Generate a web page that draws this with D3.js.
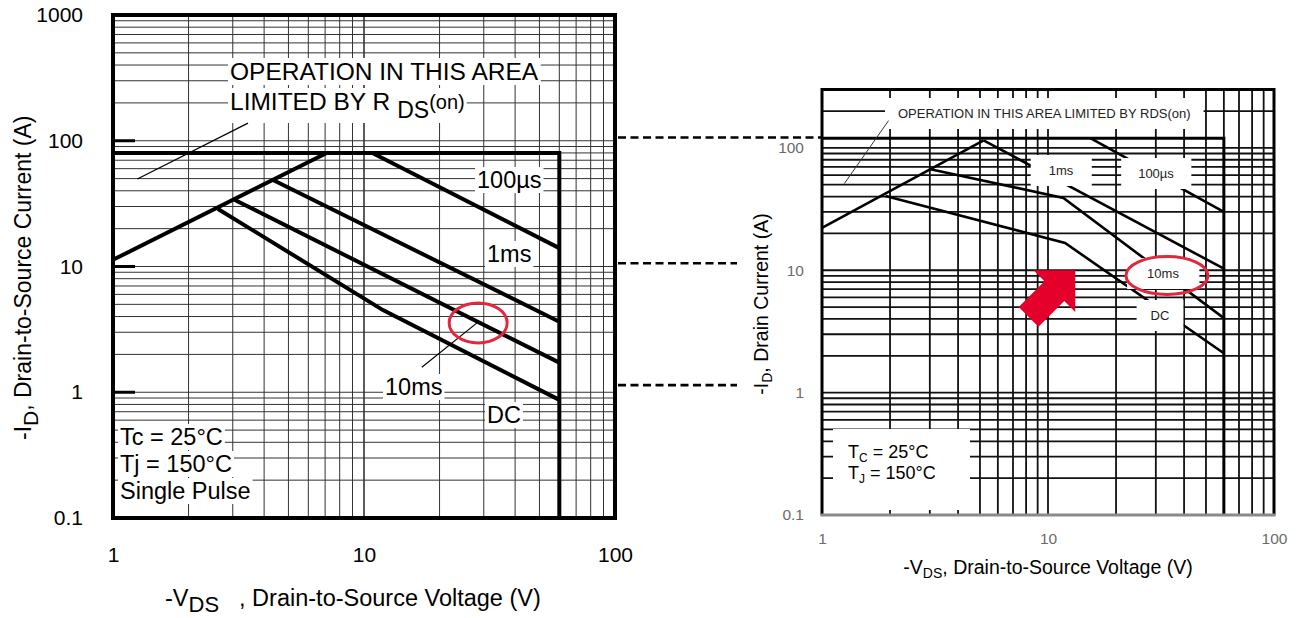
<!DOCTYPE html>
<html>
<head>
<meta charset="utf-8">
<script src="https://cdn.jsdelivr.net/npm/d3@7"></script>
<style>
  body { margin: 0; background: #fff; }
  svg { display: block; font-family: "Liberation Sans", Arial, Helvetica, sans-serif; }
</style>
</head>
<body>
<svg id="soa" width="1297" height="618"></svg>
<script>
// ---- left datasheet (SOA) ----
var leftTicksX = [1, 10, 100];
var leftTicksY = [0.1, 1, 10, 100, 1000];
var leftLimitI = 80, leftLimitV = 60;
var leftRdsV = [1, 7.1],        leftRdsI = [11.3, 80];
var left100usV = [10.8, 60],    left100usI = [80, 14];
var left1msV = [4.34, 60],      left1msI = [48.7, 3.64];
var left10msV = [3.06, 60],     left10msI = [33.8, 1.72];
var leftDcV = [2.62, 11.9, 60], leftDcI = [28.7, 4.5, 0.87];
var leftNoteV = [1.25, 3.45],   leftNoteI = [49.7, 138];   // leader to "OPERATION..."
var left10msLeadV = [17, 28.2], left10msLeadI = [1.58, 3.56];
var leftMark = [28.5, 3.56];    // red ellipse (V, A)

// ---- right datasheet (SOA) ----
var rightTicksX = [1, 10, 100];
var rightTicksY = [0.1, 1, 10, 100];
var rightLimitI = 120, rightLimitV = 60;
var rightRdsV = [1, 5.19],         rightRdsI = [22.2, 115];
var right100usV = [15.4, 60],      right100usI = [120, 30];
var right1msV = [5.19, 60],        right1msI = [115, 10.3];
var right10msV = [3.02, 11.7, 60], right10msI = [67, 39, 4.06];
var rightDcV = [1.91, 11.9, 60],   rightDcI = [40.5, 16.7, 2.1];
var rightNoteV = [1.97, 1.255],    rightNoteI = [167, 51];
var rightMark = [33.6, 9.06];
var rightArrowTip = [13.2, 10];

// levels of the dashed connectors (read on the left chart's scale)
var linkI = [106, 10.6, 1.14];

var RED = "#e2283c";
var svg = d3.select("#soa");
svg.append("rect").attr("width", 1297).attr("height", 618).attr("fill", "#fff");

// put a white box behind a text element
function box(g, t, px, py) {
  var b = t.node().getBBox();
  g.insert("rect", function() { return t.node(); })
    .attr("x", b.x - px).attr("y", b.y - py)
    .attr("width", b.width + 2 * px).attr("height", b.height + 2 * py)
    .attr("fill", "#fff");
}

// ================= LEFT =================
var L = {left: 113, right: 615, top: 15, bottom: 518};
var lx = d3.scaleLog().domain([1, 100]).range([L.left, L.right]);
var ly = d3.scaleLog().domain([0.1, 1000]).range([L.bottom, L.top]);
var lLine = d3.line().x(d => lx(d[0])).y(d => ly(d[1]));
var gl = svg.append("g");

var isDecade = v => Math.abs(Math.log10(v) - Math.round(Math.log10(v))) < 1e-6;

gl.append("g").selectAll("line").data(lx.ticks()).join("line")
  .attr("x1", d => lx(d)).attr("x2", d => lx(d))
  .attr("y1", L.top).attr("y2", L.bottom)
  .attr("stroke", "#333").attr("stroke-width", d => isDecade(d) ? 1.6 : 1);
gl.append("g").selectAll("line").data(ly.ticks()).join("line")
  .attr("y1", d => ly(d)).attr("y2", d => ly(d))
  .attr("x1", L.left).attr("x2", L.right)
  .attr("stroke", "#333").attr("stroke-width", 1);
// short heavy ticks on the left edge
gl.append("g").selectAll("line").data([1, 10, 100]).join("line")
  .attr("y1", d => ly(d)).attr("y2", d => ly(d))
  .attr("x1", L.left).attr("x2", L.left + 22)
  .attr("stroke", "#000").attr("stroke-width", 3);

// label boxes + labels
var lText = gl.append("g").attr("font-size", 23.5).attr("fill", "#000");
var t1 = lText.append("text").attr("x", 230).attr("y", 80).attr("font-size", 24.5).text("OPERATION IN THIS AREA");
var t2 = lText.append("text").attr("x", 230).attr("y", 110).attr("font-size", 24.5);
t2.append("tspan").text("LIMITED BY R");
t2.append("tspan").attr("dx", 7).attr("dy", 8).attr("font-size", 23).text("DS");
t2.append("tspan").attr("dy", -9).attr("font-size", 20).text("(on)");
var t3 = lText.append("text").attr("x", 477).attr("y", 188).text("100\u00b5s");
var t4 = lText.append("text").attr("x", 487).attr("y", 262).text("1ms");
var t5 = lText.append("text").attr("x", 385).attr("y", 395).text("10ms");
var t6 = lText.append("text").attr("x", 487).attr("y", 423).text("DC");
var t7 = lText.append("text").attr("x", 120).attr("y", 445).text("Tc = 25\u00b0C");
var t8 = lText.append("text").attr("x", 120).attr("y", 472).text("Tj = 150\u00b0C");
var t9 = lText.append("text").attr("x", 120).attr("y", 499).text("Single Pulse");
[t1, t2, t3, t4, t5, t6, t7, t8, t9].forEach(t => box(lText, t, 2, 0));

// curves
var lCurves = [
  d3.zip(leftRdsV, leftRdsI), d3.zip(left100usV, left100usI),
  d3.zip(left1msV, left1msI), d3.zip(left10msV, left10msI), d3.zip(leftDcV, leftDcI),
  [[1, leftLimitI], [leftLimitV, leftLimitI], [leftLimitV, 0.1]]
];
gl.append("g").selectAll("path").data(lCurves).join("path")
  .attr("d", lLine).attr("fill", "none").attr("stroke", "#000")
  .attr("stroke-width", 4).attr("stroke-linejoin", "miter");
gl.append("path").attr("d", lLine(d3.zip(leftNoteV, leftNoteI)))
  .attr("stroke", "#000").attr("stroke-width", 1.2);
gl.append("path").attr("d", lLine(d3.zip(left10msLeadV, left10msLeadI)))
  .attr("stroke", "#000").attr("stroke-width", 1.2);
gl.append("rect").attr("x", L.left).attr("y", L.top)
  .attr("width", L.right - L.left).attr("height", L.bottom - L.top)
  .attr("fill", "none").attr("stroke", "#000").attr("stroke-width", 4);
gl.append("ellipse").attr("cx", lx(leftMark[0])).attr("cy", ly(leftMark[1]))
  .attr("rx", 29).attr("ry", 20).attr("fill", "none")
  .attr("stroke", RED).attr("stroke-width", 3);

// axes
var lyAxis = gl.append("g").attr("transform", "translate(" + L.left + ",0)")
  .call(d3.axisLeft(ly).tickValues(leftTicksY).tickFormat(d3.format("~g")).tickSize(0).tickPadding(30));
var lxAxis = gl.append("g").attr("transform", "translate(0," + L.bottom + ")")
  .call(d3.axisBottom(lx).tickValues(leftTicksX).tickFormat(d3.format("~g")).tickSize(0).tickPadding(29));
[lyAxis, lxAxis].forEach(a => {
  a.select(".domain").remove();
  a.selectAll("text").attr("font-size", 21).attr("fill", "#000")
    .attr("font-family", "'Liberation Sans', Arial, sans-serif");
});

var lxt = gl.append("text").attr("x", 165).attr("y", 606).attr("font-size", 23.5);
lxt.append("tspan").text("-V");
lxt.append("tspan").attr("dy", 6).attr("font-size", 22).text("DS");
lxt.append("tspan").attr("dy", -6).attr("dx", 20).text(", Drain-to-Source Voltage (V)");

var lyt = gl.append("text").attr("transform", "translate(31,440) rotate(-90)").attr("font-size", 23);
lyt.append("tspan").text("-I");
lyt.append("tspan").attr("dy", 7).attr("font-size", 21).text("D");
lyt.append("tspan").attr("dy", -7).text(",  Drain-to-Source Current (A)");

// ================= RIGHT =================
var R = {left: 822, right: 1274, top: 89.5, bottom: 515};
var rx = d3.scaleLog().domain([1, 100]).range([R.left, R.right]);
var ry = d3.scaleLog().domain([0.1, 300]).range([R.bottom, R.top]);
var rLine = d3.line().x(d => rx(d[0])).y(d => ry(d[1]));
var gr = svg.append("g");

gr.append("g").selectAll("line").data(rx.ticks()).join("line")
  .attr("x1", d => rx(d)).attr("x2", d => rx(d))
  .attr("y1", R.top).attr("y2", R.bottom)
  .attr("stroke", "#111").attr("stroke-width", 1.8);
gr.append("g").selectAll("line").data(ry.ticks()).join("line")
  .attr("y1", d => ry(d)).attr("y2", d => ry(d))
  .attr("x1", R.left).attr("x2", R.right)
  .attr("stroke", "#111").attr("stroke-width", 1.8);

var rText = gr.append("g").attr("font-size", 13).attr("fill", "#222");
var r1 = rText.append("text").attr("x", 898).attr("y", 118).text("OPERATION IN THIS AREA LIMITED BY RDS(on)");
var r2 = rText.append("text").attr("x", 1061).attr("y", 175).attr("text-anchor", "middle").text("1ms");
var r3 = rText.append("text").attr("x", 1156).attr("y", 178).attr("text-anchor", "middle").text("100\u00b5s");
var r4 = rText.append("text").attr("x", 1163).attr("y", 278).attr("text-anchor", "middle").text("10ms");
var r5 = rText.append("text").attr("x", 1160).attr("y", 320).attr("text-anchor", "middle").text("DC");
box(rText, r1, 13, 8);
box(rText, r2, 18, 8);
box(rText, r3, 17, 8);
box(rText, r4, 20, 8);
box(rText, r5, 14, 8);

var tcg = gr.append("g").attr("font-size", 18).attr("fill", "#000");
var r6 = tcg.append("text").attr("x", 848).attr("y", 458);
r6.append("tspan").text("T");
r6.append("tspan").attr("dy", 4).attr("font-size", 12).text("C");
r6.append("tspan").attr("dy", -4).text(" = 25\u00b0C");
var r7 = tcg.append("text").attr("x", 848).attr("y", 479);
r7.append("tspan").text("T");
r7.append("tspan").attr("dy", 4).attr("font-size", 12).text("J");
r7.append("tspan").attr("dy", -4).text(" = 150\u00b0C");
var b6 = r6.node().getBBox();
tcg.insert("rect", "text").attr("x", b6.x - 15).attr("y", b6.y - 13)
  .attr("width", 137).attr("height", R.bottom - 5 - (b6.y - 13)).attr("fill", "#fff");

var rCurves = [
  d3.zip(rightRdsV, rightRdsI), d3.zip(right100usV, right100usI),
  d3.zip(right1msV, right1msI), d3.zip(right10msV, right10msI), d3.zip(rightDcV, rightDcI)
];
// curves are hidden under the label boxes: draw them below the text layer
var rc = gr.insert("g", function() { return rText.node(); });
rc.selectAll("path").data(rCurves).join("path")
  .attr("d", rLine).attr("fill", "none").attr("stroke", "#000").attr("stroke-width", 2.6);
gr.append("path").attr("d", rLine([[1, rightLimitI], [rightLimitV, rightLimitI], [rightLimitV, 0.1]]))
  .attr("fill", "none").attr("stroke", "#000").attr("stroke-width", 3);
gr.append("path").attr("d", rLine(d3.zip(rightNoteV, rightNoteI)))
  .attr("stroke", "#333").attr("stroke-width", 1);

// frame: black on three sides, grey bottom
gr.append("path")
  .attr("d", "M" + R.left + "," + R.bottom + "V" + R.top + "H" + R.right + "V" + R.bottom)
  .attr("fill", "none").attr("stroke", "#000").attr("stroke-width", 3);
gr.append("line").attr("x1", R.left - 1.5).attr("x2", R.right + 1.5)
  .attr("y1", R.bottom).attr("y2", R.bottom)
  .attr("stroke", "#8a8a8a").attr("stroke-width", 3);

gr.append("ellipse").attr("cx", rx(rightMark[0])).attr("cy", ry(rightMark[1]))
  .attr("rx", 41).attr("ry", 19).attr("fill", "none")
  .attr("stroke", RED).attr("stroke-width", 3);

// red arrow pointing up-right at the 10 A level
gr.append("polygon")
  .attr("points", [[0, 0], [-29.5, -29.5], [-29.5, -14], [-66, -14], [-66, 14], [-29.5, 14], [-29.5, 29.5]].join(" "))
  .attr("transform", "translate(" + rx(rightArrowTip[0]) + "," + ry(rightArrowTip[1]) + ") rotate(-45)")
  .attr("fill", "#e4002b");

var ryAxis = gr.append("g").attr("transform", "translate(" + R.left + ",0)")
  .call(d3.axisLeft(ry).tickValues(rightTicksY).tickFormat(d3.format("~g")).tickSize(0).tickPadding(18));
var rxAxis = gr.append("g").attr("transform", "translate(0," + R.bottom + ")")
  .call(d3.axisBottom(rx).tickValues(rightTicksX).tickFormat(d3.format("~g")).tickSize(0).tickPadding(18));
[ryAxis, rxAxis].forEach(a => {
  a.select(".domain").remove();
  a.selectAll("text").attr("font-size", 15.5).attr("fill", "#6b6b6b")
    .attr("font-family", "'Liberation Sans', Arial, sans-serif");
});

var rxt = gr.append("text").attr("x", 1048).attr("y", 574).attr("text-anchor", "middle").attr("font-size", 19.5);
rxt.append("tspan").text("-V");
rxt.append("tspan").attr("dy", 4).attr("font-size", 14).text("DS");
rxt.append("tspan").attr("dy", -4).text(", Drain-to-Source Voltage (V)");

var ryt = gr.append("text").attr("transform", "translate(768,304) rotate(-90)")
  .attr("text-anchor", "middle").attr("font-size", 19.5);
ryt.append("tspan").text("-I");
ryt.append("tspan").attr("dy", 4).attr("font-size", 14).text("D");
ryt.append("tspan").attr("dy", -4).text(", Drain Current (A)");

// ================= dashed connectors =================
svg.append("g").selectAll("line").data(linkI).join("line")
  .attr("x1", L.right + 3)
  .attr("x2", (d, i) => i === 0 ? R.left : 737)
  .attr("y1", d => ly(d)).attr("y2", d => ly(d))
  .attr("stroke", "#000").attr("stroke-width", 2.6).attr("stroke-dasharray", "8,4.5");
</script>
</body>
</html>
